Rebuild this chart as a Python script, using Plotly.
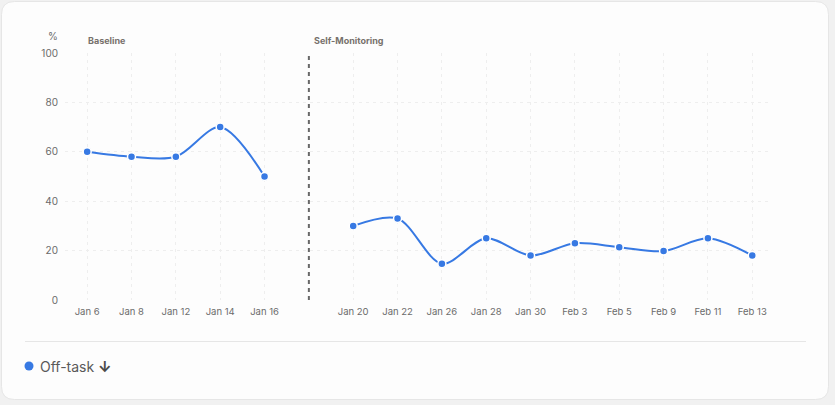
import plotly.graph_objects as go

# ---- data ----
baseline_dates = ["Jan 6", "Jan 8", "Jan 12", "Jan 14", "Jan 16"]
baseline_values = [60, 58, 58, 70, 50]
selfmon_dates = ["Jan 20", "Jan 22", "Jan 26", "Jan 28", "Jan 30",
                 "Feb 3", "Feb 5", "Feb 9", "Feb 11", "Feb 13"]
selfmon_values = [30, 33, 14.7, 25, 18, 23, 21.4, 19.8, 25, 18]
phase_labels = ["Baseline", "Self-Monitoring"]
y_ticks = [0, 20, 40, 60, 80, 100]
series_name = "Off-task"

# positions: baseline slots, one empty slot for the phase divider, then self-monitoring
base_x = list(range(len(baseline_dates)))
divider_x = len(baseline_dates)
self_x = [divider_x + 1 + i for i in range(len(selfmon_dates))]

W, H = 835, 405
L, R, T, B = 65, 65, 53, 105
PW, PH = W - L - R, H - T - B


def px(xp):
    return (xp - L) / PW


def py(yp):
    return (H - B - yp) / PH


BLUE = "#3779e3"
FONT = "Inter, Roboto, sans-serif"

fig = go.Figure()
for xs, ys in [(base_x, baseline_values), (self_x, selfmon_values)]:
    fig.add_trace(go.Scatter(
        x=xs, y=ys, mode="lines+markers",
        line=dict(color=BLUE, width=2, shape="spline", smoothing=0.9),
        marker=dict(color=BLUE, size=8, line=dict(color="white", width=1.5)),
        showlegend=False, hoverinfo="skip", cliponaxis=False,
    ))

# card background (rounded rectangle)
x0, y0, x1, y1, r = 1.5, 1.5, 828.5, 399.5, 13


def card_path():
    pts = []
    pts.append(f"M {px(x0 + r)},{py(y0)}")
    pts.append(f"L {px(x1 - r)},{py(y0)}")
    pts.append(f"Q {px(x1)},{py(y0)} {px(x1)},{py(y0 + r)}")
    pts.append(f"L {px(x1)},{py(y1 - r)}")
    pts.append(f"Q {px(x1)},{py(y1)} {px(x1 - r)},{py(y1)}")
    pts.append(f"L {px(x0 + r)},{py(y1)}")
    pts.append(f"Q {px(x0)},{py(y1)} {px(x0)},{py(y1 - r)}")
    pts.append(f"L {px(x0)},{py(y0 + r)}")
    pts.append(f"Q {px(x0)},{py(y0)} {px(x0 + r)},{py(y0)}")
    pts.append("Z")
    return " ".join(pts)


shapes = [
    dict(type="path", xref="paper", yref="paper", path=card_path(),
         fillcolor="#fdfdfd", line=dict(color="#e6e6e6", width=1), layer="below"),
    # phase divider
    dict(type="line", xref="x", yref="y", x0=divider_x, x1=divider_x, y0=0, y1=100,
         line=dict(color="#686868", width=2, dash="4px,4px"), layer="above"),
    # legend separator
    dict(type="line", xref="paper", yref="paper", x0=px(25), x1=px(806),
         y0=py(341.5), y1=py(341.5), line=dict(color="#e6e6e6", width=1)),
    # legend dot
    dict(type="circle", xref="paper", yref="paper",
         x0=px(24.5), x1=px(33.5), y0=py(361.5), y1=py(370.5),
         fillcolor=BLUE, line=dict(width=0)),
]

annotations = [
    dict(text="%", xref="paper", yref="paper", x=px(53), y=py(36),
         showarrow=False, font=dict(family=FONT, size=10, color="#6b6b6b"),
         xanchor="center", yanchor="middle"),
    dict(text=f"<b>{phase_labels[0]}</b>", xref="x", yref="paper",
         x=base_x[0], y=py(40), showarrow=False, xanchor="left", yanchor="middle",
         xshift=-1, font=dict(family=FONT, size=9, color="#77716c")),
    dict(text=f"<b>{phase_labels[1]}</b>", xref="x", yref="paper",
         x=divider_x, y=py(40), showarrow=False, xanchor="left", yanchor="middle",
         xshift=3, font=dict(family=FONT, size=9, color="#77716c")),
    dict(text=f"{series_name} <b><span style='color:#4a4a4a;font-size:15px'>↓</span></b>",
         xref="paper", yref="paper", x=px(38), y=py(366),
         showarrow=False, xanchor="left", yanchor="middle",
         font=dict(family=FONT, size=14, color="#595959")),
]

grid = dict(showgrid=True, gridcolor="#eeeeee", griddash="3px,4px", gridwidth=1)

fig.update_layout(
    width=W, height=H,
    margin=dict(l=L, r=R, t=T, b=B),
    paper_bgcolor="#f1f1f1", plot_bgcolor="rgba(0,0,0,0)",
    shapes=shapes, annotations=annotations,
    font=dict(family=FONT),
    xaxis=dict(range=[-0.5, self_x[-1] + 0.4],
               tickvals=base_x + self_x, ticktext=baseline_dates + selfmon_dates,
               tickfont=dict(size=9.5, color="#6b6b6b"), zeroline=False,
               showline=False, ticks="", ticklabelstandoff=4, **grid),
    yaxis=dict(range=[0, 100], tickvals=y_ticks,
               tickfont=dict(size=10, color="#6b6b6b"), zeroline=False,
               showline=False, ticks="", ticklabelstandoff=6, **grid),
)

fig.write_html("out.html")
